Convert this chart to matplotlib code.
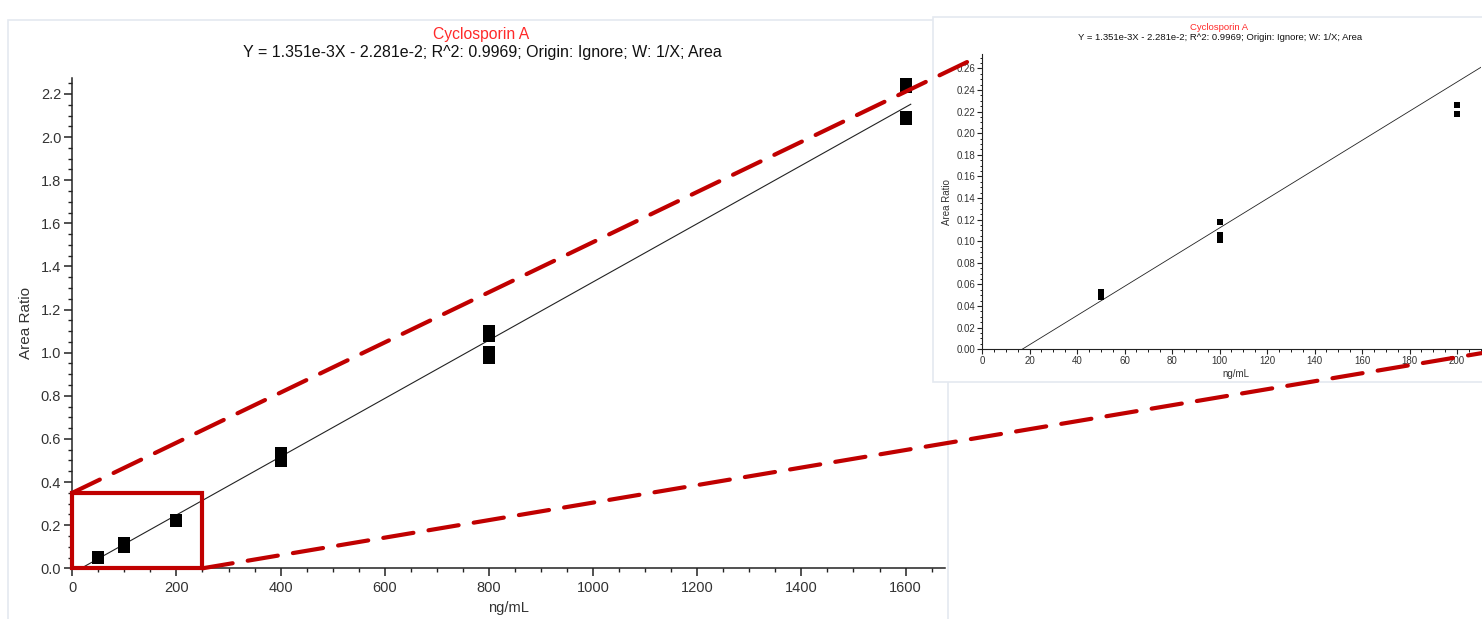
import matplotlib
matplotlib.use("Agg")
import matplotlib.pyplot as plt
from matplotlib.ticker import MultipleLocator, FormatStrFormatter
from matplotlib.patches import Rectangle, ConnectionPatch
import numpy as np

plt.rcParams['font.family'] = ['Liberation Sans', 'DejaVu Sans']
plt.rcParams['lines.scale_dashes'] = False

# ---- data ----
conc = [50, 50, 100, 100, 100, 200, 200, 400, 400, 800, 800, 800, 800, 1600, 1600, 1600, 1600]
area_ratio = [0.053, 0.048, 0.118, 0.106, 0.101, 0.226, 0.218, 0.535, 0.498,
              1.101, 1.078, 1.004, 0.976, 2.270, 2.233, 2.092, 2.084]
slope = 1.351e-3
intercept = -2.281e-2
fit_x_max = 1610
title = "Cyclosporin A"
subtitle = "Y = 1.351e-3X - 2.281e-2; R^2: 0.9969; Origin: Ignore; W: 1/X; Area"
xlabel = "ng/mL"
ylabel = "Area Ratio"
zoom_box = (0, 0, 250, 0.35)  # x0, y0, x1, y1 in main data units

W, H = 1482, 619
fig = plt.figure(figsize=(W / 100, H / 100), dpi=100)
fig.patch.set_facecolor('white')

def fbox(x0, y0, x1, y1):
    return [x0 / W, (H - y1) / H, (x1 - x0) / W, (y1 - y0) / H]

# panel backgrounds
for (x0, y0, x1, y1) in [(8, 20, 948, 640), (933, 17, 1490, 382)]:
    b = fbox(x0, y0, x1, y1)
    fig.add_artist(Rectangle((b[0], b[1]), b[2], b[3], transform=fig.transFigure,
                             facecolor='white', edgecolor='#e4e9f0', lw=1.2, zorder=0))

text_col = '#333333'
red_title = '#ff2a2a'
box_red = '#c00000'

def style_axes(a, fs, maj_len, min_len, lw):
    a.set_facecolor('none')
    for s in ['top', 'right']:
        a.spines[s].set_visible(False)
    for s in ['left', 'bottom']:
        a.spines[s].set_color('#222222')
        a.spines[s].set_linewidth(lw)
    a.tick_params(which='major', direction='out', length=maj_len, width=lw,
                  color='#222222', labelsize=fs, labelcolor=text_col, pad=2)
    a.tick_params(which='minor', direction='out', length=min_len, width=lw * 0.9,
                  color='#222222')

# ---- main axes ----
ax = fig.add_axes(fbox(72.3, 78, 944.6, 568.3))
style_axes(ax, 10.5, 6, 3, 1.1)
ax.set_xlim(0, 1675)
ax.set_ylim(0, 2.274)
ax.xaxis.set_major_locator(MultipleLocator(200))
ax.xaxis.set_minor_locator(MultipleLocator(50))
ax.yaxis.set_major_locator(MultipleLocator(0.2))
ax.yaxis.set_minor_locator(MultipleLocator(0.05))
ax.yaxis.set_major_formatter(FormatStrFormatter('%.1f'))
ax.xaxis.set_major_formatter(FormatStrFormatter('%d'))
ax.tick_params(axis='x', which='major', pad=3)

x0 = -intercept / slope
fx = np.array([x0, fit_x_max])
ax.plot(fx, slope * fx + intercept, color='#222222', lw=0.8, zorder=2)
ax.plot(conc, area_ratio, linestyle='none', marker='s', markersize=8.5,
        markerfacecolor='black', markeredgewidth=0, color='black', zorder=3)
ax.set_xlabel(xlabel, fontsize=10.5, color=text_col)
ax.set_ylabel(ylabel, fontsize=11, color=text_col)
ax.xaxis.set_label_coords(0.5, -0.066)
ax.yaxis.set_label_coords(-0.045, 0.5)

fig.text(481 / W, 1 - 34 / H, title, color=red_title, fontsize=11.3, ha='center', va='center')
fig.text(482 / W, 1 - 53 / H, subtitle, color='#111111', fontsize=11.5, ha='center', va='center')

# zoom rectangle
bx0, by0, bx1, by1 = zoom_box
ax.add_patch(Rectangle((bx0, by0), bx1 - bx0, by1 - by0, fill=False,
                       edgecolor=box_red, lw=3, clip_on=False, zorder=5))

# ---- inset axes ----
ins = fig.add_axes(fbox(982, 54.3, 1480.8, 349.3))
style_axes(ins, 7, 3.5, 1.8, 0.8)
ins.set_xlim(0, 210)
ins.set_ylim(0, 0.273)
ins.xaxis.set_major_locator(MultipleLocator(20))
ins.xaxis.set_minor_locator(MultipleLocator(5))
ins.yaxis.set_major_locator(MultipleLocator(0.02))
ins.yaxis.set_minor_locator(MultipleLocator(0.005))
ins.yaxis.set_major_formatter(FormatStrFormatter('%.2f'))
ins.xaxis.set_major_formatter(FormatStrFormatter('%d'))
ins.tick_params(which='major', pad=1.5)
fx2 = np.array([x0, 260])
ins.plot(fx2, slope * fx2 + intercept, color='#222222', lw=0.6, zorder=2)
ins.plot(conc, area_ratio, linestyle='none', marker='s', markersize=5,
         markerfacecolor='black', markeredgewidth=0, color='black', zorder=3)
ins.set_xlabel(xlabel, fontsize=7, color=text_col)
ins.set_ylabel(ylabel, fontsize=7, color=text_col)
ins.xaxis.set_label_coords(0.51, -0.068)
ins.yaxis.set_label_coords(-0.06, 0.5)

fig.text(1219 / W, 1 - 27.7 / H, title, color=red_title, fontsize=6.8, ha='center', va='center')
fig.text(1220 / W, 1 - 38 / H, subtitle, color='#111111', fontsize=6.8, ha='center', va='center')

# connector dashed lines
dash = (0, (22, 11))
c1 = ConnectionPatch(xyA=(bx0, by1), coordsA=ax.transData,
                     xyB=(-0.01, 0.99), coordsB=ins.transAxes,
                     color=box_red, lw=3, linestyle=dash, zorder=10)
c2 = ConnectionPatch(xyA=(bx1, by0), coordsA=ax.transData,
                     xyB=(1.005, -0.012), coordsB=ins.transAxes,
                     color=box_red, lw=3, linestyle=dash, zorder=10)
fig.add_artist(c1)
fig.add_artist(c2)

fig.savefig("out.png", dpi=100)
